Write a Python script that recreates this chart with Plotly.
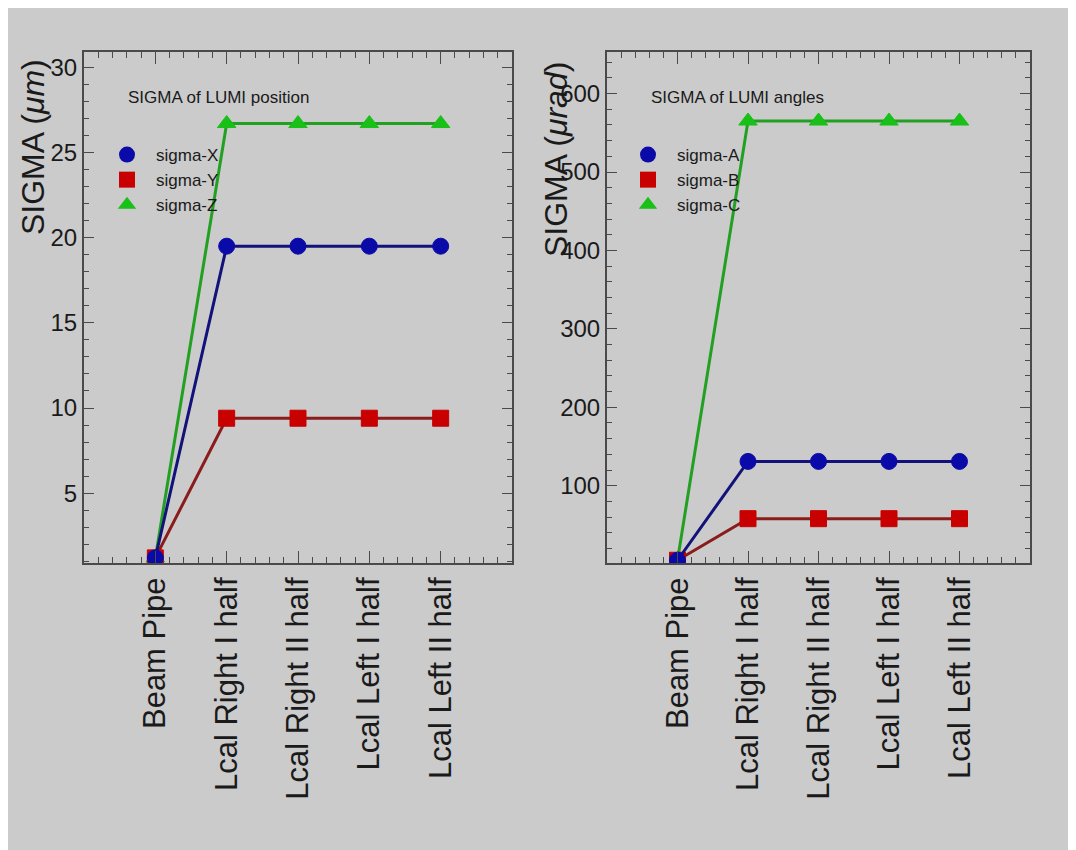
import plotly.graph_objects as go

categories = ["Beam Pipe", "Lcal Right I half", "Lcal Right II half",
              "Lcal Left I half", "Lcal Left II half"]

# Left panel: SIGMA of LUMI position (micrometres)
sigma_x = [1.2, 19.5, 19.5, 19.5, 19.5]
sigma_y = [1.2, 9.4, 9.4, 9.4, 9.4]
sigma_z = [1.2, 26.7, 26.7, 26.7, 26.7]

# Right panel: SIGMA of LUMI angles (microradians)
sigma_a = [5, 131, 131, 131, 131]
sigma_b = [5, 58, 58, 58, 58]
sigma_c = [5, 565, 565, 565, 565]

W, H = 1076, 850
OFF = 8  # page body offset
BG = "#cbcbcb"
AX = "#4a4a4a"
TXT = "#1a1a1a"
SANS = "Liberation Sans, Arial, Helvetica, sans-serif"

BLUE_M, BLUE_L = "#0a0aa8", "#12127a"
RED_M, RED_L = "#c80000", "#8a1c1c"
GREEN_M, GREEN_L = "#18c018", "#22a022"

xs = list(range(len(categories)))

fig = go.Figure()

def add_series(vals, name, sym, mcol, lcol, xa, ya):
    fig.add_trace(go.Scatter(
        x=xs, y=vals, mode="lines+markers", name=name, showlegend=False,
        xaxis=xa, yaxis=ya,
        line=dict(color=lcol, width=3),
        marker=dict(symbol=sym, size=16, color=mcol,
                    line=dict(color=mcol, width=1)),
    ))

def add_legend_entry(name, sym, mcol, leg):
    fig.add_trace(go.Scatter(
        x=[None], y=[None], mode="markers", name=name, legend=leg,
        marker=dict(symbol=sym, size=16, color=mcol),
    ))

# left panel (draw green, red, blue so blue is on top)
add_series(sigma_z, "sigma-Z", "triangle-up", GREEN_M, GREEN_L, "x", "y")
add_series(sigma_y, "sigma-Y", "square", RED_M, RED_L, "x", "y")
add_series(sigma_x, "sigma-X", "circle", BLUE_M, BLUE_L, "x", "y")
add_legend_entry("sigma-X", "circle", BLUE_M, "legend")
add_legend_entry("sigma-Y", "square", RED_M, "legend")
add_legend_entry("sigma-Z", "triangle-up", GREEN_M, "legend")

# right panel
add_series(sigma_c, "sigma-C", "triangle-up", GREEN_M, GREEN_L, "x2", "y2")
add_series(sigma_b, "sigma-B", "square", RED_M, RED_L, "x2", "y2")
add_series(sigma_a, "sigma-A", "circle", BLUE_M, BLUE_L, "x2", "y2")
add_legend_entry("sigma-A", "circle", BLUE_M, "legend2")
add_legend_entry("sigma-B", "square", RED_M, "legend2")
add_legend_entry("sigma-C", "triangle-up", GREEN_M, "legend2")

def px_x(p):
    return (p - OFF) / W

def px_y(p):
    return (H - (p - OFF)) / H

xaxis_common = dict(
    range=[-1, 5], tickmode="array", tickvals=xs, ticktext=categories,
    tickangle=-90, ticks="inside", ticklen=12, tickwidth=1.2, tickcolor=AX,
    showline=True, linecolor=AX, linewidth=2, mirror="allticks",
    showgrid=False, zeroline=False, automargin=False,
    tickfont=dict(family=SANS, size=31, color=TXT),
    minor=dict(dtick=0.2, ticks="inside", ticklen=6, tickcolor=AX, tickwidth=1, showgrid=False),
)
yaxis_common = dict(
    ticks="inside", ticklen=10, tickwidth=1.2, tickcolor=AX,
    showline=True, linecolor=AX, linewidth=2, mirror="allticks",
    showgrid=False, zeroline=False, automargin=False,
    tickfont=dict(family=SANS, size=24, color=TXT),
)

ydom = [px_y(563), px_y(52)]
legend_common = dict(xanchor="left", yanchor="top", bgcolor="rgba(0,0,0,0)",
                     borderwidth=0, tracegroupgap=0, itemwidth=48,
                     font=dict(family=SANS, size=17, color=TXT))

fig.update_layout(
    xaxis=dict(domain=[px_x(84), px_x(512)], anchor="y", **xaxis_common),
    yaxis=dict(domain=ydom, anchor="x", range=[0.9, 30.9], tickmode="array",
               tickvals=[5, 10, 15, 20, 25, 30],
               minor=dict(dtick=1, ticks="inside", ticklen=5, tickcolor=AX, tickwidth=1, showgrid=False),
               **yaxis_common),
    xaxis2=dict(domain=[px_x(607), px_x(1030)], anchor="y2", **xaxis_common),
    yaxis2=dict(domain=ydom, anchor="x2", range=[1.5, 653], tickmode="array",
                tickvals=[100, 200, 300, 400, 500, 600],
                minor=dict(dtick=20, ticks="inside", ticklen=5, tickcolor=AX, tickwidth=1, showgrid=False),
                **yaxis_common),
    legend=dict(x=px_x(98), y=px_y(137), **legend_common),
    legend2=dict(x=px_x(619), y=px_y(137), **legend_common),
    width=W, height=H,
    margin=dict(l=0, r=0, t=0, b=0),
    paper_bgcolor=BG, plot_bgcolor=BG,
    annotations=[
        dict(text="SIGMA of LUMI position", x=px_x(126), y=px_y(97),
             xref="paper", yref="paper", xanchor="left", yanchor="middle",
             showarrow=False, font=dict(family=SANS, size=17, color=TXT)),
        dict(text="SIGMA of LUMI angles", x=px_x(649), y=px_y(97),
             xref="paper", yref="paper", xanchor="left", yanchor="middle",
             showarrow=False, font=dict(family=SANS, size=17, color=TXT)),
        dict(text="SIGMA (<i>μm</i>)", x=px_x(33), y=px_y(147),
             xref="paper", yref="paper", xanchor="center", yanchor="middle",
             textangle=-90, showarrow=False,
             font=dict(family=SANS, size=32, color=TXT)),
        dict(text="SIGMA (<i>μrad</i>)", x=px_x(556), y=px_y(160),
             xref="paper", yref="paper", xanchor="center", yanchor="middle",
             textangle=-90, showarrow=False,
             font=dict(family=SANS, size=32, color=TXT)),
    ],
)

fig.write_html("out.html")
